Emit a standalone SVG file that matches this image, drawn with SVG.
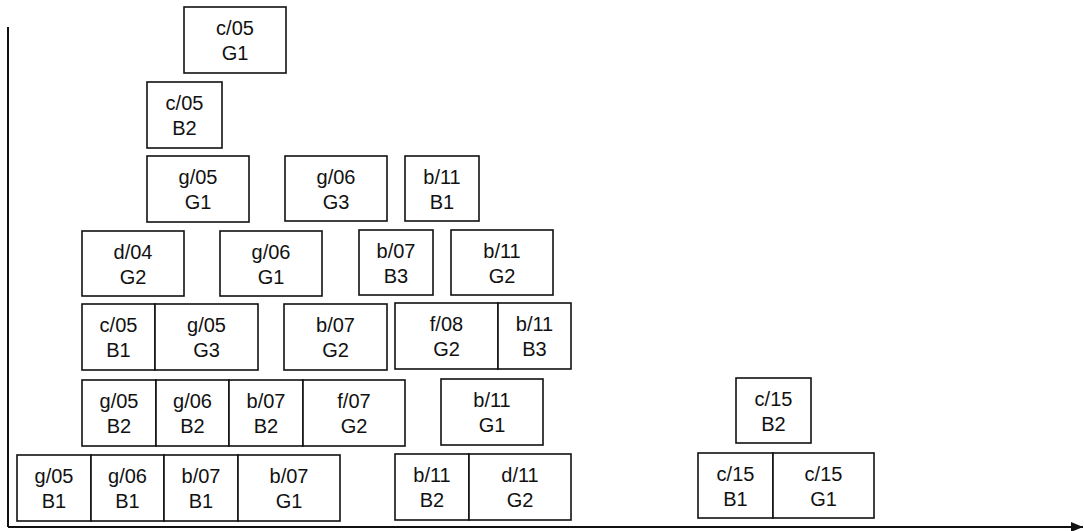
<svg xmlns="http://www.w3.org/2000/svg" width="1084" height="531" viewBox="0 0 1084 531">
<style>
rect{fill:#fff;stroke:#111;stroke-width:1.6}
text{font-family:"Liberation Sans",Arial,sans-serif;font-size:20px;fill:#111;text-anchor:middle}
.ax{stroke:#111;stroke-width:2;fill:none}
</style>
<defs>
<marker id="ah" viewBox="0 0 12 10" refX="12" refY="5" markerWidth="12" markerHeight="10" markerUnits="userSpaceOnUse" orient="auto">
<path d="M0,0 L12,5 L0,10 z" fill="#111"/>
</marker>
</defs>
<rect width="1084" height="531" style="fill:#fff;stroke:none"/>
<g id="connectors">
<line class="ax" x1="8" y1="27" x2="8" y2="527"/>
<line class="ax" x1="8" y1="527" x2="1083" y2="527" marker-end="url(#ah)"/>
</g>
<g id="n1"><rect x="184" y="7" width="102" height="66"/><text x="235" y="35">c/05</text><text x="235" y="60">G1</text></g>
<g id="n2"><rect x="147" y="82" width="75" height="66"/><text x="184.5" y="110">c/05</text><text x="184.5" y="135">B2</text></g>
<g id="n3"><rect x="147" y="156" width="102" height="66"/><text x="198" y="184">g/05</text><text x="198" y="209">G1</text></g>
<g id="n4"><rect x="285" y="156" width="102" height="65"/><text x="336" y="184">g/06</text><text x="336" y="209">G3</text></g>
<g id="n5"><rect x="405" y="156" width="74" height="65"/><text x="442" y="184">b/11</text><text x="442" y="209">B1</text></g>
<g id="n6"><rect x="82" y="231" width="102" height="65"/><text x="133" y="259">d/04</text><text x="133" y="284">G2</text></g>
<g id="n7"><rect x="220" y="231" width="102" height="65"/><text x="271" y="259">g/06</text><text x="271" y="284">G1</text></g>
<g id="n8"><rect x="359" y="230" width="74" height="65"/><text x="396" y="258">b/07</text><text x="396" y="283">B3</text></g>
<g id="n9"><rect x="451" y="230" width="102" height="65"/><text x="502" y="258">b/11</text><text x="502" y="283">G2</text></g>
<g id="n10"><rect x="82" y="304" width="73" height="66"/><text x="118.5" y="332">c/05</text><text x="118.5" y="357">B1</text></g>
<g id="n11"><rect x="155" y="304" width="103" height="66"/><text x="206.5" y="332">g/05</text><text x="206.5" y="357">G3</text></g>
<g id="n12"><rect x="284" y="304" width="103" height="66"/><text x="335.5" y="332">b/07</text><text x="335.5" y="357">G2</text></g>
<g id="n13"><rect x="395" y="303" width="103" height="66"/><text x="446.5" y="331">f/08</text><text x="446.5" y="356">G2</text></g>
<g id="n14"><rect x="498" y="303" width="73" height="66"/><text x="534.5" y="331">b/11</text><text x="534.5" y="356">B3</text></g>
<g id="n15"><rect x="82" y="380" width="74" height="66"/><text x="119" y="408">g/05</text><text x="119" y="433">B2</text></g>
<g id="n16"><rect x="156" y="380" width="73" height="66"/><text x="192.5" y="408">g/06</text><text x="192.5" y="433">B2</text></g>
<g id="n17"><rect x="229" y="380" width="74" height="66"/><text x="266" y="408">b/07</text><text x="266" y="433">B2</text></g>
<g id="n18"><rect x="303" y="380" width="102" height="66"/><text x="354" y="408">f/07</text><text x="354" y="433">G2</text></g>
<g id="n19"><rect x="441" y="379" width="102" height="66"/><text x="492" y="407">b/11</text><text x="492" y="432">G1</text></g>
<g id="n20"><rect x="736" y="378" width="75" height="65"/><text x="773.5" y="406">c/15</text><text x="773.5" y="431">B2</text></g>
<g id="n21"><rect x="17" y="455" width="74" height="66"/><text x="54" y="483">g/05</text><text x="54" y="508">B1</text></g>
<g id="n22"><rect x="91" y="455" width="73" height="66"/><text x="127.5" y="483">g/06</text><text x="127.5" y="508">B1</text></g>
<g id="n23"><rect x="164" y="455" width="74" height="66"/><text x="201" y="483">b/07</text><text x="201" y="508">B1</text></g>
<g id="n24"><rect x="238" y="455" width="102" height="66"/><text x="289" y="483">b/07</text><text x="289" y="508">G1</text></g>
<g id="n25"><rect x="395" y="454" width="74" height="66"/><text x="432" y="482">b/11</text><text x="432" y="507">B2</text></g>
<g id="n26"><rect x="469" y="454" width="102" height="66"/><text x="520" y="482">d/11</text><text x="520" y="507">G2</text></g>
<g id="n27"><rect x="698" y="453" width="75" height="65"/><text x="735.5" y="481">c/15</text><text x="735.5" y="506">B1</text></g>
<g id="n28"><rect x="773" y="453" width="101" height="65"/><text x="823.5" y="481">c/15</text><text x="823.5" y="506">G1</text></g>
</svg>
